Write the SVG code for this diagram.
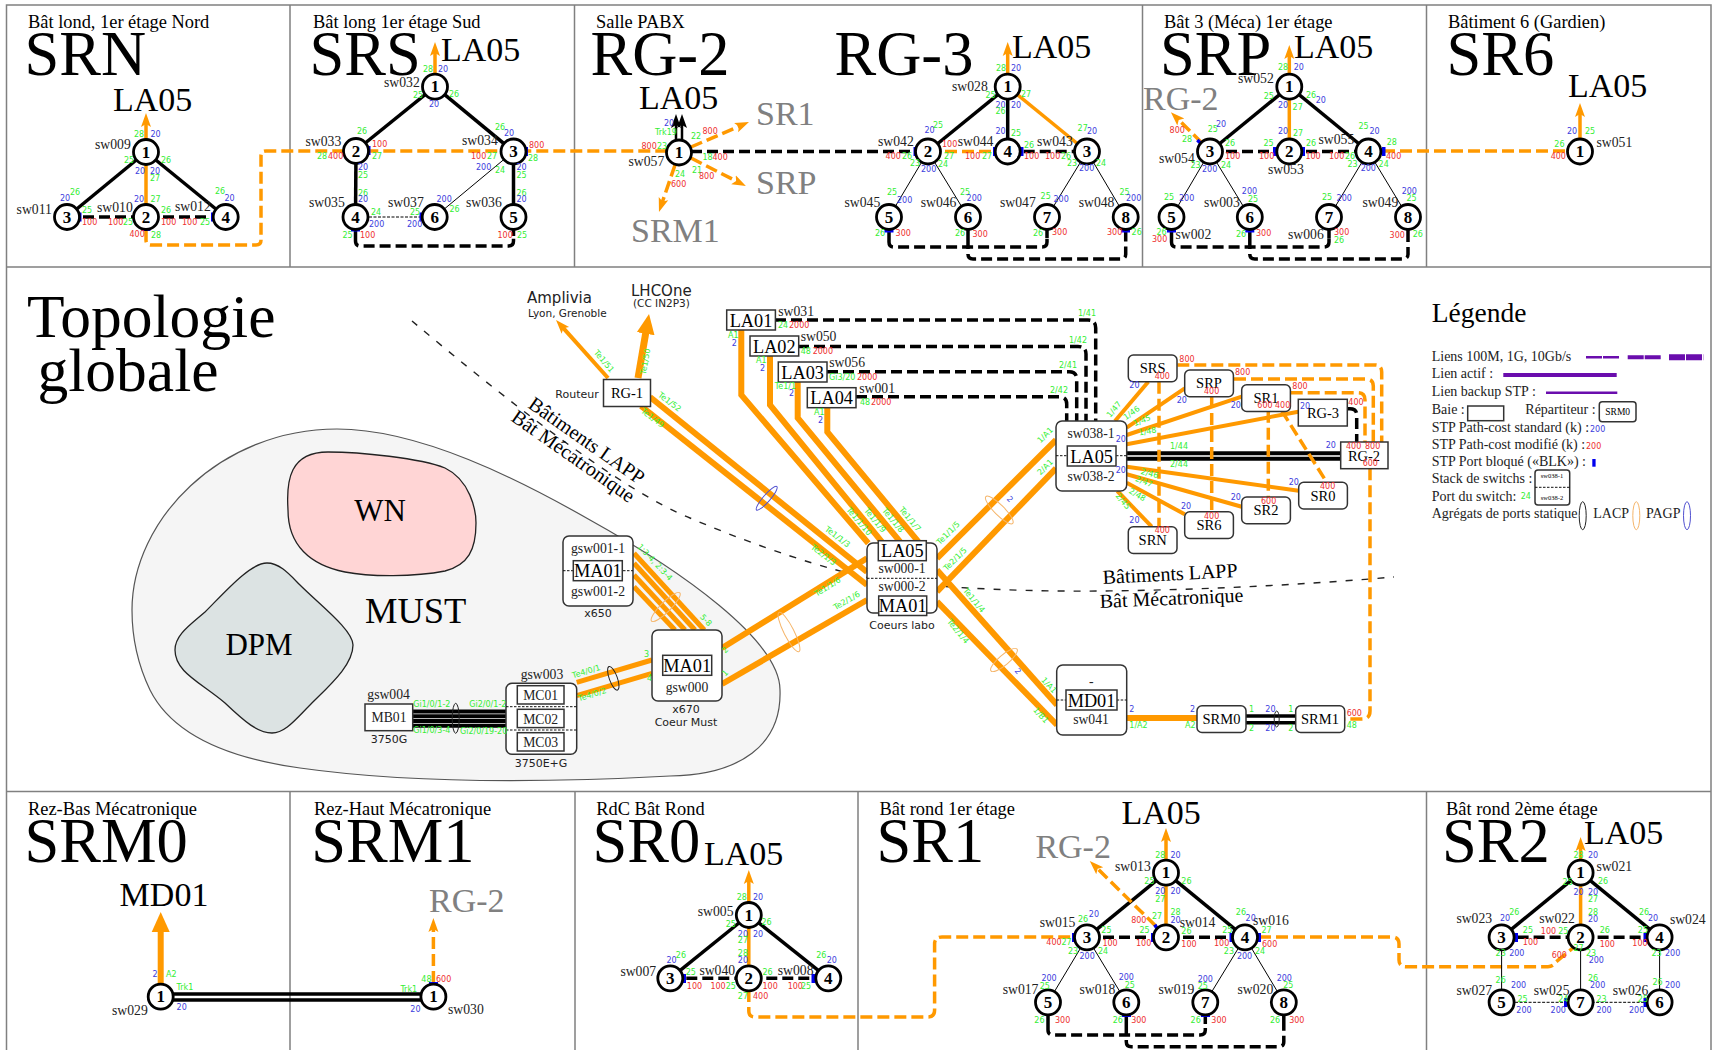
<svg xmlns="http://www.w3.org/2000/svg" width="1714" height="1050" viewBox="0 0 1714 1050">
<style>
text{font-family:"Liberation Serif","Times New Roman",serif;fill:#000}
.g,.b,.r,.s{font-family:"DejaVu Sans",sans-serif;font-size:8px}
.g{fill:#33ee33}.b{fill:#3c3cdd}.r{fill:#ee2f2f}
.rot{font-size:8px;text-anchor:middle}
.big{font-size:62.5px}.mid{font-size:34px}.gr{fill:#808080}
.ttl{font-size:18.4px}.sw{font-size:13.7px;fill:#222}
.d{font-family:"DejaVu Sans",sans-serif;font-size:11px;fill:#222;text-anchor:middle}
.c{text-anchor:middle}.m{font-size:14.5px;text-anchor:middle}.la{font-size:18.3px;text-anchor:middle}
.leg{font-size:14px;fill:#222}
.n{fill:#fff;stroke:#000;stroke-width:2.8}
.nt{font-size:17px;font-weight:bold;text-anchor:middle}
.fr{fill:none;stroke:#808080;stroke-width:1.5}
.box{fill:#fff;stroke:#333;stroke-width:1.5}
.rb{fill:#fff;stroke:#333;stroke-width:1.5}
path,line{fill:none}
.k{stroke:#000;stroke-width:3.5}
.kd{stroke:#000;stroke-width:3.5;stroke-dasharray:11,5}
.t{stroke:#000;stroke-width:1}
.td{stroke:#000;stroke-width:1;stroke-dasharray:3,1.5}
.o{stroke:#ff9900;stroke-width:3.5}
.od{stroke:#ff9900;stroke-width:3.5;stroke-dasharray:12,5}
.o6{stroke:#ff9900;stroke-width:6}
.dot{stroke:#111;stroke-width:1;stroke-dasharray:2.5,1.5}
.blk{fill:#0000ee}
.agk,.ago,.agb{fill:none;stroke-width:1}
.agk{stroke:#222}.ago{stroke:#f5b56a}.agb{stroke:#5050d0}
.pu{stroke:#6a0dad}
</style>
<defs>
<marker id="ao" markerUnits="userSpaceOnUse" markerWidth="16" markerHeight="12" refX="4" refY="6" orient="auto"><path d="M0,1 L14,6 L0,11 L3,6 z" style="fill:#ff9900"/></marker>
<marker id="ak" markerUnits="userSpaceOnUse" markerWidth="16" markerHeight="12" refX="4" refY="6" orient="auto"><path d="M0,1 L14,6 L0,11 L3,6 z" style="fill:#000"/></marker>
<marker id="ab" markerUnits="userSpaceOnUse" markerWidth="24" markerHeight="22" refX="1" refY="11" orient="auto"><path d="M0,2 L20,11 L0,20 z" style="fill:#ff9900"/></marker>
</defs>

<g id="frames">
<path class="fr" d="M6.5,1050 V5 H1711 V1050 M6.5,267 H1711 M6.5,791.5 H1711 M290,5 V267 M574.5,5 V267 M1142.5,5 V267 M1426.5,5 V267 M290,791.5 V1050 M575,791.5 V1050 M858,791.5 V1050 M1426.5,791.5 V1050"/>
</g>

<g id="zones">
<path d="M132,610 C132,520 220,429 337,429 C420,429 520,480 590,520 C680,570 780,640 780,690 C782,745 740,775 670,776 C560,782 420,785 300,768 C220,757 170,730 150,690 C138,665 132,640 132,610 Z" style="fill:#f5f5f5;stroke:#555;stroke-width:1.2"/>
<g id="zone-wn"><path d="M328,452 C360,452 420,458 445,468 C470,480 476,510 476,523 C476,550 468,565 445,571 C415,577 370,577 345,572 C310,565 288,545 288,510 C286,480 290,452 328,452 Z" style="fill:#ffd5d5;stroke:#222;stroke-width:1.3"/><text class="c" x="380" y="521" font-size="31">WN</text></g>
<g id="zone-dpm"><path d="M267,563 C280,563 290,575 300,585 C320,605 353,630 353,645 C353,665 330,685 310,705 C295,720 285,733 272,733 C258,733 245,722 225,703 C200,682 175,672 175,650 C175,635 190,625 205,612 C225,592 250,563 267,563 Z" style="fill:#dce3e3;stroke:#222;stroke-width:1.3"/><text class="c" x="259" y="655" font-size="31">DPM</text></g>
<text x="365" y="623" font-size="36.5">MUST</text>
<path d="M412,321 C500,395 620,490 690,518 C760,548 830,570 865,577 C900,585 1000,592 1100,591 C1200,590 1300,585 1394,577" style="stroke:#222;stroke-width:1.4;stroke-dasharray:7,9"/>
</g>

<g id="connectors">
<!-- top chain -->
<path class="od" d="M146,230 V240 Q146,245 151,245 H256 Q261,245 261,240 V156 Q261,151 266,151 H667"/>
<line class="kd" x1="691" y1="151.5" x2="915" y2="151.5"/>
<path class="od" d="M1383,151 H1567"/>
<!-- SRN -->
<line class="k" x1="146" y1="152" x2="67" y2="217"/><line class="k" x1="146" y1="152" x2="225.7" y2="217"/>
<line class="o" x1="146" y1="152" x2="146" y2="216"/>
<line class="o" x1="146" y1="140" x2="146" y2="123" marker-end="url(#ao)"/>
<line class="kd" x1="67" y1="217" x2="226" y2="217"/>
<!-- SRS -->
<line class="k" x1="435" y1="86.7" x2="356" y2="150.5"/><line class="k" x1="435" y1="86.7" x2="513.5" y2="151.5"/>
<line class="k" x1="356" y1="150.5" x2="355.5" y2="217"/><line class="k" x1="513.5" y1="151.5" x2="513.5" y2="217"/>
<line class="t" x1="513.5" y1="151.5" x2="434.7" y2="217"/><line class="td" x1="355.5" y1="217" x2="434.7" y2="217"/>
<path class="k" d="M355.5,229 V236 M513.5,229 V236"/>
<path class="kd" d="M355.5,236 V241 Q355.5,246 360.5,246 H508.5 Q513.5,246 513.5,241 V236"/>
<line class="o" x1="435" y1="74" x2="435" y2="52" marker-end="url(#ao)"/>
<!-- RG-2 -->
<line class="k" x1="676" y1="141" x2="676" y2="124" marker-end="url(#ak)" style="stroke-width:2.5"/><line class="k" x1="682" y1="141" x2="682" y2="124" marker-end="url(#ak)" style="stroke-width:2.5"/>
<line class="od" x1="691" y1="147" x2="739.8" y2="126" marker-end="url(#ao)"/>
<line class="od" x1="691" y1="158" x2="737" y2="181.5" marker-end="url(#ao)"/>
<line class="od" x1="675" y1="165" x2="662.2" y2="202.5" marker-end="url(#ao)"/>
<!-- RG-3 -->
<line class="k" x1="1007.7" y1="86.7" x2="928" y2="151.5"/><line class="k" x1="1007.7" y1="86.7" x2="1007.7" y2="151.5"/>
<line class="o" x1="1007.7" y1="86.7" x2="1087" y2="151.5"/>
<line class="o" x1="1007.7" y1="74" x2="1007.7" y2="52" marker-end="url(#ao)"/>
<line class="od" x1="928" y1="151.5" x2="1007.7" y2="151.5"/><line class="kd" x1="1007.7" y1="151.5" x2="1087" y2="151.5"/>
<path class="t" d="M928,151.5 L889,217 M928,151.5 L968,217 M1087,151.5 L1047,217 M1087,151.5 L1125.7,217"/>
<path class="k" d="M889,229 V238 M968,229 V238 M1047,229 V238 M1125.7,229 V238"/>
<path class="kd" d="M889,238 V242 Q889,247 894,247 H1042 Q1047,247 1047,242 V238"/>
<path class="kd" d="M968,238 V254 Q968,259 973,259 H1120.7 Q1125.7,259 1125.7,254 V238"/>
<!-- SRP -->
<line class="k" x1="1289.3" y1="86.7" x2="1210" y2="151.5"/><line class="k" x1="1289.3" y1="86.7" x2="1368.4" y2="151.5"/>
<line class="o" x1="1289.3" y1="86.7" x2="1289.3" y2="151.5"/>
<line class="o" x1="1289.3" y1="74" x2="1289.3" y2="55" marker-end="url(#ao)"/>
<line class="od" x1="1202" y1="143" x2="1178" y2="119.2" marker-end="url(#ao)"/>
<line class="kd" x1="1210" y1="151.5" x2="1368.4" y2="151.5"/>
<path class="t" d="M1210,151.5 L1171.5,217 M1210,151.5 L1249.8,217 M1368.4,151.5 L1329,217 M1368.4,151.5 L1408,217"/>
<path class="k" d="M1171.5,229 V238 M1249.8,229 V238 M1329,229 V238 M1408,229 V238"/>
<path class="kd" d="M1171.5,238 V242 Q1171.5,247 1176.5,247 H1324 Q1329,247 1329,242 V238"/>
<path class="kd" d="M1249.8,238 V254 Q1249.8,259 1254.8,259 H1403 Q1408,259 1408,254 V238"/>
<!-- SR6 -->
<line class="o" x1="1580" y1="139" x2="1580" y2="113" marker-end="url(#ao)"/>

<!-- global -->
<line x1="608" y1="378" x2="562.7" y2="327.4" marker-end="url(#ao)" style="stroke:#ff9900;stroke-width:4"/>
<line x1="638" y1="378" x2="645.8" y2="332.7" marker-end="url(#ab)" style="stroke:#ff9900;stroke-width:7"/>
<line class="o6" x1="650" y1="397" x2="867" y2="572"/><line class="o6" x1="641" y1="406" x2="867" y2="585"/>
<path class="o6" d="M741.3,330 V395 L868.3,543.3"/>
<path class="o6" d="M770,356 V405 L881.7,541.7"/>
<path class="o6" d="M797.7,382 V418 L900,541.7"/>
<path class="o6" d="M827.3,408 V432 L918.3,541.7"/>
<path class="kd" d="M775,320 H1088 Q1095.7,320 1095.7,328 V421"/>
<path class="kd" d="M798,346.5 H1078 Q1086,346.5 1086,354 V421"/>
<path class="kd" d="M827,371.7 H1069 Q1076.7,371.7 1076.7,379 V421"/>
<path class="kd" d="M856,396.7 H1059 Q1066.7,396.7 1066.7,404 V421"/>
<line class="o6" x1="722" y1="648" x2="867" y2="558.3"/><line class="o6" x1="722" y1="684" x2="867" y2="600"/>
<line class="o6" x1="937" y1="558.3" x2="1056" y2="440"/><line class="o6" x1="937" y1="591.7" x2="1056" y2="468.3"/>
<line class="o6" x1="937" y1="570" x2="1057" y2="705"/><line class="o6" x1="937" y1="601.7" x2="1057" y2="725"/>
<line class="o6" x1="1127" y1="718" x2="1197" y2="718"/>
<g style="stroke:#000;stroke-width:4"><line x1="1127" y1="453.3" x2="1341" y2="453.3"/><line x1="1127" y1="458.7" x2="1341" y2="458.7"/></g>
<g style="stroke:#000;stroke-width:3.5"><line x1="1246" y1="716" x2="1296" y2="716"/><line x1="1246" y1="722.7" x2="1296" y2="722.7"/></g>
<g style="stroke:#ff9900;stroke-width:5"><line x1="634" y1="553.3" x2="704.3" y2="630"/><line x1="634" y1="563.3" x2="695" y2="630"/><line x1="634" y1="575" x2="685" y2="630"/><line x1="634" y1="586.7" x2="675" y2="630"/></g>
<g style="stroke:#ff9900;stroke-width:5"><line x1="576.7" y1="682.3" x2="652" y2="660"/><line x1="576.7" y1="695.7" x2="652" y2="673.3"/></g>
<g style="stroke:#000;stroke-width:4"><line x1="412" y1="711.5" x2="506" y2="711.5"/><line x1="412" y1="716.3" x2="506" y2="716.3"/><line x1="412" y1="721" x2="506" y2="721"/><line x1="412" y1="725.7" x2="506" y2="725.7"/></g>
<!-- sw038 star -->
<g class="o" style="stroke-width:4"><line x1="1115" y1="421" x2="1148.3" y2="381.7"/><line x1="1126.7" y1="427.7" x2="1184.7" y2="388.3"/><line x1="1126.7" y1="435" x2="1241.7" y2="396.7"/><line x1="1126.7" y1="444.3" x2="1298.3" y2="411.7"/><line x1="1126.7" y1="466.7" x2="1298.7" y2="490.7"/><line x1="1126.7" y1="474.3" x2="1241.7" y2="506.7"/><line x1="1126.7" y1="482.7" x2="1184.7" y2="514.3"/><line x1="1117.3" y1="491" x2="1151.7" y2="526.7"/></g>
<line class="od" x1="1159" y1="381.7" x2="1159" y2="526.7"/>
<line class="od" x1="1211.7" y1="396" x2="1211.7" y2="511.7"/>
<line class="od" x1="1268.3" y1="410.7" x2="1268.3" y2="497"/>
<line class="od" x1="1281.7" y1="410.7" x2="1326.7" y2="482.3"/>
<path class="od" d="M1177.3,365 H1375 Q1381.7,365 1381.7,372 V442"/>
<path class="od" d="M1234,379 H1366 Q1373.3,379 1373.3,386 V442"/>
<path class="od" d="M1290.7,392.7 H1358 Q1365,392.7 1365,400 V442"/>
<path class="od" d="M1370,468.3 V711 Q1370,719 1362,719 H1345"/>
<path class="kd" d="M1347.3,408.7 H1350 Q1356.7,408.7 1356.7,415 V442"/>
<!-- SRM -->
<line x1="160.7" y1="984" x2="160.7" y2="931" marker-end="url(#ab)" style="stroke:#ff9900;stroke-width:6"/>
<g style="stroke:#000;stroke-width:3.5"><line x1="160.7" y1="994" x2="433.4" y2="994"/><line x1="160.7" y1="1000" x2="433.4" y2="1000"/></g>
<line class="od" x1="433.4" y1="983" x2="433.4" y2="928" marker-end="url(#ao)"/>
<!-- SR0 -->
<line class="k" x1="748.8" y1="915" x2="670.3" y2="978.3"/><line class="k" x1="748.8" y1="915" x2="828.3" y2="978.3"/>
<line class="o" x1="748.8" y1="915" x2="748.8" y2="978.3"/>
<line class="o" x1="748.8" y1="902" x2="748.8" y2="880" marker-end="url(#ao)"/>
<line class="kd" x1="670.3" y1="978.3" x2="828.3" y2="978.3"/>
<path class="od" d="M748.8,990 V1011 Q748.8,1017 755,1017 H928 Q934.6,1017 934.6,1010 V944 Q934.6,937 942,937 H1075"/>
<!-- SR1 -->
<line class="k" x1="1166" y1="872.7" x2="1087" y2="937.3"/><line class="k" x1="1166" y1="872.7" x2="1245" y2="937.3"/>
<line class="o" x1="1166" y1="872.7" x2="1166" y2="937.3"/>
<line class="o" x1="1166" y1="860" x2="1166" y2="838" marker-end="url(#ao)"/>
<line class="od" x1="1155.7" y1="926" x2="1096.9" y2="868" marker-end="url(#ao)"/>
<line class="kd" x1="1087" y1="937.3" x2="1245" y2="937.3"/>
<path class="t" d="M1087,937.3 L1048,1002.3 M1087,937.3 L1126.3,1002.3 M1245,937.3 L1205.3,1002.3 M1245,937.3 L1283.8,1002.3"/>
<path class="k" d="M1048,1014 V1024 M1126.3,1014 V1024 M1205.3,1014 V1024 M1283.8,1014 V1024"/>
<path class="kd" d="M1048,1024 V1030 Q1048,1035 1053,1035 H1200 Q1205.3,1035 1205.3,1030 V1024"/>
<path class="kd" d="M1126.3,1024 V1041.7 Q1126.3,1046.7 1131.3,1046.7 H1279 Q1283.8,1046.7 1283.8,1041.7 V1024"/>
<path class="od" d="M1259,937 H1392 Q1399,937 1399,944 V960 Q1399,966.7 1406,966.7 H1548 Q1553,966.7 1556,962 L1574,947"/>
<!-- SR2 -->
<line class="k" x1="1580.6" y1="872.7" x2="1501.6" y2="937.3"/><line class="k" x1="1580.6" y1="872.7" x2="1659.6" y2="937.3"/>
<line class="o" x1="1580.6" y1="872.7" x2="1580.6" y2="937.3"/>
<line class="o" x1="1580.6" y1="860" x2="1580.6" y2="847" marker-end="url(#ao)"/>
<line class="kd" x1="1501.6" y1="937.3" x2="1659.6" y2="937.3"/>
<path class="t" d="M1501.6,937.3 V1002.3 M1580.6,937.3 V1002.3 M1659.6,937.3 V1002.3"/>
<line class="td" x1="1501.6" y1="1002.3" x2="1659.6" y2="1002.3"/>
</g>

<g id="aggregates">
<ellipse class="agb" cx="766.7" cy="498.3" rx="15.5" ry="3.5" transform="rotate(-49 766.7 498.3)"/>
<ellipse class="ago" cx="665.7" cy="607" rx="20" ry="5" transform="rotate(-45 665.7 607)"/>
<ellipse class="agk" cx="613.3" cy="678.3" rx="4" ry="12.5" transform="rotate(-20 613.3 678.3)"/>
<ellipse class="agk" cx="455.7" cy="718.3" rx="3.5" ry="15"/>
<ellipse class="ago" cx="789" cy="632" rx="5" ry="22" transform="rotate(-27 789 632)"/>
<ellipse class="ago" cx="999.3" cy="510" rx="19" ry="5" transform="rotate(45 999.3 510)"/>
<ellipse class="ago" cx="1004" cy="660" rx="17" ry="5" transform="rotate(-40 1004 660)"/>
<ellipse class="agk" cx="1276.7" cy="719" rx="2.5" ry="8"/>
</g>

<g id="blocked" class="blk">
<rect x="78" y="212.5" width="3.5" height="9"/><rect x="141.5" y="227.5" width="9" height="3.5"/><rect x="211" y="212.5" width="3.5" height="9"/>
<rect x="367" y="146" width="3.5" height="9"/><rect x="524.5" y="147" width="3.5" height="9"/><rect x="351" y="228" width="9" height="3.5"/><rect x="419.5" y="212.5" width="3.5" height="9"/>
<rect x="913.5" y="147" width="3.5" height="9"/><rect x="993" y="147" width="3.5" height="9"/><rect x="1020" y="147" width="3.5" height="9"/><rect x="884.5" y="229" width="9" height="3.5"/><rect x="1121" y="229" width="9" height="3.5"/>
<rect x="1196" y="141" width="9" height="3.5" transform="rotate(45 1200 143)"/><rect x="1273" y="147" width="3.5" height="9"/><rect x="1301.5" y="147" width="3.5" height="9"/><rect x="1382" y="147" width="3.5" height="9"/><rect x="1167" y="229" width="9" height="3.5"/><rect x="1245.3" y="229" width="9" height="3.5"/>
<rect x="429" y="982" width="9" height="3.5"/>
<rect x="682.5" y="974" width="3.5" height="9"/><rect x="811.5" y="974" width="3.5" height="9"/>
<rect x="1072" y="933" width="3.5" height="9"/><rect x="1151" y="933" width="3.5" height="9"/><rect x="1155" y="924" width="3.5" height="9" transform="rotate(-30 1157 928)"/><rect x="1229.5" y="933" width="3.5" height="9"/><rect x="1257.5" y="933" width="3.5" height="9"/><rect x="1122" y="1013.5" width="9" height="3.5"/><rect x="1201" y="1013.5" width="9" height="3.5"/>
<rect x="1514.5" y="933" width="3.5" height="9"/><rect x="1643.5" y="933" width="3.5" height="9"/><rect x="1564" y="998" width="3.5" height="9"/><rect x="1643.5" y="998" width="3.5" height="9"/>
</g>

<g id="titles">
<text class="ttl" x="28" y="28">Bât lond, 1er étage Nord</text><text class="big" x="24.5" y="75">SRN</text><text class="mid" x="113" y="111">LA05</text>
<text class="ttl" x="313" y="28">Bât long 1er étage Sud</text><text class="big" x="309.5" y="75">SRS</text><text class="mid" x="441" y="61">LA05</text>
<text class="ttl" x="596" y="28">Salle PABX</text><text class="big" x="590.5" y="75">RG-2</text><text class="mid" x="639" y="109">LA05</text>
<text class="mid gr" x="756" y="125">SR1</text><text class="mid gr" x="756" y="194">SRP</text><text class="mid gr" x="631" y="242">SRM1</text>
<text class="big" x="834.5" y="75">RG-3</text><text class="mid" x="1012" y="58">LA05</text>
<text class="ttl" x="1164" y="28">Bât 3 (Méca) 1er étage</text><text class="big" x="1160" y="75">SRP</text><text class="mid" x="1294" y="58">LA05</text><text class="mid gr" x="1143" y="110">RG-2</text>
<text class="ttl" x="1448" y="28">Bâtiment 6 (Gardien)</text><text class="big" x="1446.5" y="75">SR6</text><text class="mid" x="1568" y="97">LA05</text>
<text x="27" y="337" font-size="61.5">Topologie</text><text x="37.5" y="391" font-size="61.5">globale</text>
<text class="ttl" x="28" y="815">Rez-Bas Mécatronique</text><text class="big" x="24.5" y="861.7">SRM0</text><text class="mid" x="119.6" y="906">MD01</text>
<text class="ttl" x="314" y="815">Rez-Haut Mécatronique</text><text class="big" x="311.3" y="861.7">SRM1</text><text class="mid gr" x="429" y="912">RG-2</text>
<text class="ttl" x="596.3" y="815">RdC Bât Rond</text><text class="big" x="592.5" y="861.7">SR0</text><text class="mid" x="704" y="865">LA05</text>
<text class="ttl" x="879.6" y="815">Bât rond 1er étage</text><text class="big" x="876.5" y="861.7">SR1</text><text class="mid" x="1121.5" y="824">LA05</text><text class="mid gr" x="1035.4" y="858">RG-2</text>
<text class="ttl" x="1446" y="815">Bât rond 2ème étage</text><text class="big" x="1442" y="861.7">SR2</text><text class="mid" x="1584" y="844">LA05</text>
<text x="527" y="407" font-size="20.2" transform="rotate(35 527 407)">Bâtiments LAPP</text>
<text x="510" y="420" font-size="20.2" transform="rotate(35 510 420)">Bât Mécatronique</text>
<text x="1103" y="584" font-size="20" transform="rotate(-3 1103 584)">Bâtiments LAPP</text>
<text x="1100" y="608" font-size="20" transform="rotate(-2.5 1100 608)">Bât Mécatronique</text>
<text x="527" y="302.7" style="font-family:'DejaVu Sans',sans-serif;font-size:15px;fill:#222">Amplivia</text>
<text x="528" y="317" style="font-family:'DejaVu Sans',sans-serif;font-size:10.5px;fill:#222">Lyon, Grenoble</text>
<text x="631" y="296" style="font-family:'DejaVu Sans',sans-serif;font-size:15px;fill:#222">LHCOne</text>
<text x="633" y="307" style="font-family:'DejaVu Sans',sans-serif;font-size:10.5px;fill:#222">(CC IN2P3)</text>
</g>

<g id="nodes">
<!-- SRN -->
<g id="sw009"><circle class="n" cx="146" cy="152" r="12.5"/><text class="nt" x="146" y="157.5">1</text><text class="sw" x="95" y="149">sw009</text></g>
<g id="sw010"><circle class="n" cx="146" cy="217" r="12.5"/><text class="nt" x="146" y="222.5">2</text><text class="sw" x="97" y="212">sw010</text></g>
<g id="sw011"><circle class="n" cx="67" cy="217" r="12.5"/><text class="nt" x="67" y="222.5">3</text><text class="sw" x="16.6" y="213.5">sw011</text></g>
<g id="sw012"><circle class="n" cx="225.7" cy="217" r="12.5"/><text class="nt" x="225.7" y="222.5">4</text><text class="sw" x="175" y="211">sw012</text></g>
<!-- SRS -->
<g id="sw032"><circle class="n" cx="435" cy="86.7" r="12.5"/><text class="nt" x="435" y="92">1</text><text class="sw" x="384" y="87">sw032</text></g>
<g id="sw033"><circle class="n" cx="356" cy="151" r="12.5"/><text class="nt" x="356" y="156.5">2</text><text class="sw" x="305.5" y="146">sw033</text></g>
<g id="sw034"><circle class="n" cx="513.5" cy="151.5" r="12.5"/><text class="nt" x="513.5" y="157">3</text><text class="sw" x="462" y="145">sw034</text></g>
<g id="sw035"><circle class="n" cx="355.5" cy="217" r="12.5"/><text class="nt" x="355.5" y="222.5">4</text><text class="sw" x="309" y="207">sw035</text></g>
<g id="sw036"><circle class="n" cx="513.5" cy="217" r="12.5"/><text class="nt" x="513.5" y="222.5">5</text><text class="sw" x="466" y="207">sw036</text></g>
<g id="sw037"><circle class="n" cx="434.7" cy="217" r="12.5"/><text class="nt" x="434.7" y="222.5">6</text><text class="sw" x="388" y="207">sw037</text></g>
<!-- RG-2 -->
<g id="sw057"><circle class="n" cx="679" cy="152.5" r="12.5"/><text class="nt" x="679" y="158">1</text><text class="sw" x="628.5" y="166">sw057</text></g>
<!-- RG-3 -->
<g id="sw028"><circle class="n" cx="1007.7" cy="86.7" r="12.5"/><text class="nt" x="1007.7" y="92">1</text><text class="sw" x="952" y="91">sw028</text></g>
<g id="sw042"><circle class="n" cx="928" cy="151.5" r="12.5"/><text class="nt" x="928" y="157">2</text><text class="sw" x="878" y="146">sw042</text></g>
<g id="sw043"><circle class="n" cx="1087" cy="151.5" r="12.5"/><text class="nt" x="1087" y="157">3</text><text class="sw" x="1037" y="146">sw043</text></g>
<g id="sw044"><circle class="n" cx="1007.7" cy="151.5" r="12.5"/><text class="nt" x="1007.7" y="157">4</text><text class="sw" x="957.7" y="146">sw044</text></g>
<g id="sw045"><circle class="n" cx="889" cy="217" r="12.5"/><text class="nt" x="889" y="222.5">5</text><text class="sw" x="844.5" y="207">sw045</text></g>
<g id="sw046"><circle class="n" cx="968" cy="217" r="12.5"/><text class="nt" x="968" y="222.5">6</text><text class="sw" x="920.7" y="207">sw046</text></g>
<g id="sw047"><circle class="n" cx="1047" cy="217" r="12.5"/><text class="nt" x="1047" y="222.5">7</text><text class="sw" x="1000" y="207">sw047</text></g>
<g id="sw048"><circle class="n" cx="1125.7" cy="217" r="12.5"/><text class="nt" x="1125.7" y="222.5">8</text><text class="sw" x="1078.7" y="207">sw048</text></g>
<!-- SRP -->
<g id="sw052"><circle class="n" cx="1289.3" cy="86.7" r="12.5"/><text class="nt" x="1289.3" y="92">1</text><text class="sw" x="1238" y="83">sw052</text></g>
<g id="sw053"><circle class="n" cx="1289.3" cy="151.5" r="12.5"/><text class="nt" x="1289.3" y="157">2</text><text class="sw" x="1268" y="174">sw053</text></g>
<g id="sw054"><circle class="n" cx="1210" cy="151.5" r="12.5"/><text class="nt" x="1210" y="157">3</text><text class="sw" x="1159" y="163">sw054</text></g>
<g id="sw055"><circle class="n" cx="1368.4" cy="151.5" r="12.5"/><text class="nt" x="1368.4" y="157">4</text><text class="sw" x="1318.5" y="144">sw055</text></g>
<g id="sw002"><circle class="n" cx="1171.5" cy="217" r="12.5"/><text class="nt" x="1171.5" y="222.5">5</text><text class="sw" x="1175.5" y="239">sw002</text></g>
<g id="sw003"><circle class="n" cx="1249.8" cy="217" r="12.5"/><text class="nt" x="1249.8" y="222.5">6</text><text class="sw" x="1204" y="207">sw003</text></g>
<g id="sw006"><circle class="n" cx="1329" cy="217" r="12.5"/><text class="nt" x="1329" y="222.5">7</text><text class="sw" x="1288" y="239">sw006</text></g>
<g id="sw049"><circle class="n" cx="1408" cy="217" r="12.5"/><text class="nt" x="1408" y="222.5">8</text><text class="sw" x="1362.5" y="207">sw049</text></g>
<!-- SR6 -->
<g id="sw051"><circle class="n" cx="1580" cy="151.5" r="12.5"/><text class="nt" x="1580" y="157">1</text><text class="sw" x="1596.5" y="147">sw051</text></g>

<!-- global boxes -->
<g id="rg1"><rect class="box" x="603.5" y="379.5" width="47" height="27"/><text class="m" x="627" y="398">RG-1</text><text class="d" x="577" y="397.7">Routeur</text></g>
<g id="la01"><rect class="box" x="726.7" y="310" width="48.7" height="20"/><text class="la" x="751" y="326.5">LA01</text><text class="sw" x="778.3" y="315.7">sw031</text></g>
<g id="la02"><rect class="box" x="750" y="336" width="48.7" height="20"/><text class="la" x="774.3" y="352.5">LA02</text><text class="sw" x="800.7" y="341">sw050</text></g>
<g id="la03"><rect class="box" x="778.3" y="362" width="48.7" height="20"/><text class="la" x="802.7" y="378.5">LA03</text><text class="sw" x="829.3" y="367">sw056</text></g>
<g id="la04"><rect class="box" x="807.3" y="387.7" width="48.7" height="20"/><text class="la" x="831.7" y="404.2">LA04</text><text class="sw" x="859.3" y="392.7">sw001</text></g>
<g id="core"><rect class="rb" x="867" y="543" width="70" height="70" rx="6"/><line class="dot" x1="867" y1="578.3" x2="937" y2="578.3"/>
<text class="sw c" x="902" y="572.5">sw000-1</text><text class="sw c" x="902" y="591">sw000-2</text>
<rect class="box" x="878.3" y="540.7" width="48" height="20"/><text class="la" x="902.3" y="557.2">LA05</text>
<rect class="box" x="878.7" y="596" width="48" height="19.5"/><text class="la" x="902.7" y="612.2">MA01</text>
<text class="d" x="902" y="629">Coeurs labo</text></g>
<g id="gsw001"><rect class="rb" x="563" y="536" width="70" height="70" rx="6"/><line class="dot" x1="563" y1="570.7" x2="633" y2="570.7"/>
<text class="sw c" x="598" y="553.3">gsw001-1</text><text class="sw c" x="598" y="596">gsw001-2</text>
<rect class="box" x="573.3" y="560.7" width="49" height="20"/><text class="la" x="597.8" y="577.2">MA01</text><text class="d" x="598" y="616.7">x650</text></g>
<g id="gsw000"><rect class="rb" x="652" y="630" width="70" height="71" rx="6"/>
<rect class="box" x="662.7" y="655.3" width="49" height="20"/><text class="la" x="687.2" y="671.8">MA01</text><text class="sw c" x="687" y="691.7">gsw000</text>
<text class="d" x="686" y="713.3">x670</text><text class="d" x="686" y="726">Coeur Must</text></g>
<g id="gsw003"><rect class="rb" x="506" y="683.3" width="70.7" height="71" rx="6"/><line class="dot" x1="506" y1="706.7" x2="576.7" y2="706.7"/><line class="dot" x1="506" y1="730" x2="576.7" y2="730"/>
<rect class="box" x="517.3" y="685.7" width="46.7" height="18.3"/><text class="sw c" x="540.7" y="700">MC01</text>
<rect class="box" x="517.3" y="709.3" width="46.7" height="18.3"/><text class="sw c" x="540.7" y="723.5">MC02</text>
<rect class="box" x="517.3" y="732.7" width="46.7" height="18.3"/><text class="sw c" x="540.7" y="747">MC03</text>
<text class="sw" x="520.7" y="679.3">gsw003</text><text class="d" x="541" y="766.7">3750E+G</text></g>
<g id="gsw004"><rect class="box" x="365" y="704" width="47.7" height="26.7"/><text class="sw c" x="389" y="722">MB01</text><text class="sw" x="367.3" y="699">gsw004</text><text class="d" x="389" y="742.7">3750G</text></g>
<g id="sw041"><rect class="rb" x="1056.7" y="665" width="70" height="70" rx="6"/><line class="dot" x1="1056.7" y1="700" x2="1126.7" y2="700"/>
<text class="sw c" x="1091.3" y="686">-</text><rect class="box" x="1066" y="690" width="51" height="20"/><text class="la" x="1091.5" y="706.5">MD01</text><text class="sw c" x="1091" y="724">sw041</text></g>
<g id="box-srm0"><rect class="rb" x="1197" y="705.7" width="49" height="26.7" rx="5"/><text class="m" x="1221.5" y="724">SRM0</text></g>
<g id="box-srm1"><rect class="rb" x="1295.7" y="705.7" width="49" height="26.7" rx="5"/><text class="m" x="1320" y="724">SRM1</text></g>
<g id="sw038"><rect class="rb" x="1056" y="421" width="70.7" height="70" rx="6"/><line class="dot" x1="1056" y1="455.7" x2="1126.7" y2="455.7"/>
<text class="sw c" x="1091" y="437.7">sw038-1</text><text class="sw c" x="1091" y="481">sw038-2</text>
<rect class="box" x="1067.3" y="446" width="48.7" height="20"/><text class="la" x="1091.7" y="462.5">LA05</text></g>
<g id="box-rg2"><rect class="box" x="1340.7" y="442" width="47.3" height="26.7"/><text class="m" x="1364" y="460.5">RG-2</text></g>
<g id="box-rg3"><rect class="box" x="1298.3" y="399.3" width="49" height="26.7"/><text class="m" x="1323" y="417.5">RG-3</text></g>
<g id="box-srs"><rect class="rb" x="1128.3" y="355" width="48.7" height="26.7" rx="5"/><text class="m" x="1152.7" y="373">SRS</text></g>
<g id="box-srp"><rect class="rb" x="1184.7" y="370" width="48.7" height="26.7" rx="5"/><text class="m" x="1209" y="388">SRP</text></g>
<g id="box-sr1"><rect class="rb" x="1241.7" y="384.7" width="48.7" height="26.7" rx="5"/><text class="m" x="1266" y="403">SR1</text></g>
<g id="box-sr0"><rect class="rb" x="1298.7" y="482.3" width="48.7" height="26.7" rx="5"/><text class="m" x="1323" y="500.5">SR0</text></g>
<g id="box-sr2"><rect class="rb" x="1241.7" y="497" width="48.7" height="26.7" rx="5"/><text class="m" x="1266" y="515">SR2</text></g>
<g id="box-sr6"><rect class="rb" x="1184.7" y="511.7" width="48.7" height="26.7" rx="5"/><text class="m" x="1209" y="530">SR6</text></g>
<g id="box-srn"><rect class="rb" x="1128.3" y="526.7" width="48.7" height="26.7" rx="5"/><text class="m" x="1152.7" y="545">SRN</text></g>

<!-- SRM -->
<g id="sw029"><circle class="n" cx="160.7" cy="996.7" r="12.5"/><text class="nt" x="160.7" y="1002">1</text><text class="sw" x="112" y="1015">sw029</text></g>
<g id="sw030"><circle class="n" cx="433.4" cy="996.7" r="12.5"/><text class="nt" x="433.4" y="1002">1</text><text class="sw" x="448" y="1014">sw030</text></g>
<!-- SR0 -->
<g id="sw005"><circle class="n" cx="748.8" cy="915" r="12.5"/><text class="nt" x="748.8" y="920.5">1</text><text class="sw" x="697.8" y="915.5">sw005</text></g>
<g id="sw040"><circle class="n" cx="748.8" cy="978.3" r="12.5"/><text class="nt" x="748.8" y="983.8">2</text><text class="sw" x="699.4" y="975">sw040</text></g>
<g id="sw007"><circle class="n" cx="670.3" cy="978.3" r="12.5"/><text class="nt" x="670.3" y="983.8">3</text><text class="sw" x="620.4" y="975.7">sw007</text></g>
<g id="sw008"><circle class="n" cx="828.3" cy="978.3" r="12.5"/><text class="nt" x="828.3" y="983.8">4</text><text class="sw" x="777.8" y="975">sw008</text></g>
<!-- SR1 -->
<g id="sw013"><circle class="n" cx="1166" cy="872.7" r="12.5"/><text class="nt" x="1166" y="878">1</text><text class="sw" x="1115" y="870.5">sw013</text></g>
<g id="sw014"><circle class="n" cx="1166" cy="937.3" r="12.5"/><text class="nt" x="1166" y="942.8">2</text><text class="sw" x="1179.7" y="927">sw014</text></g>
<g id="sw015"><circle class="n" cx="1087" cy="937.3" r="12.5"/><text class="nt" x="1087" y="942.8">3</text><text class="sw" x="1039.7" y="927">sw015</text></g>
<g id="sw016"><circle class="n" cx="1245" cy="937.3" r="12.5"/><text class="nt" x="1245" y="942.8">4</text><text class="sw" x="1253" y="925">sw016</text></g>
<g id="sw017"><circle class="n" cx="1048" cy="1002.3" r="12.5"/><text class="nt" x="1048" y="1007.8">5</text><text class="sw" x="1002.7" y="994">sw017</text></g>
<g id="sw018"><circle class="n" cx="1126.3" cy="1002.3" r="12.5"/><text class="nt" x="1126.3" y="1007.8">6</text><text class="sw" x="1079.5" y="994">sw018</text></g>
<g id="sw019"><circle class="n" cx="1205.3" cy="1002.3" r="12.5"/><text class="nt" x="1205.3" y="1007.8">7</text><text class="sw" x="1158.5" y="994">sw019</text></g>
<g id="sw020"><circle class="n" cx="1283.8" cy="1002.3" r="12.5"/><text class="nt" x="1283.8" y="1007.8">8</text><text class="sw" x="1237.5" y="994">sw020</text></g>
<!-- SR2 -->
<g id="sw021"><circle class="n" cx="1580.6" cy="872.7" r="12.5"/><text class="nt" x="1580.6" y="878">1</text><text class="sw" x="1596.4" y="870.5">sw021</text></g>
<g id="sw022"><circle class="n" cx="1580.6" cy="937.3" r="12.5"/><text class="nt" x="1580.6" y="942.8">2</text><text class="sw" x="1539.2" y="923">sw022</text></g>
<g id="sw023"><circle class="n" cx="1501.6" cy="937.3" r="12.5"/><text class="nt" x="1501.6" y="942.8">3</text><text class="sw" x="1456.4" y="923">sw023</text></g>
<g id="sw024"><circle class="n" cx="1659.6" cy="937.3" r="12.5"/><text class="nt" x="1659.6" y="942.8">4</text><text class="sw" x="1669.9" y="923.7">sw024</text></g>
<g id="sw027"><circle class="n" cx="1501.6" cy="1002.3" r="12.5"/><text class="nt" x="1501.6" y="1007.8">5</text><text class="sw" x="1456.4" y="994.7">sw027</text></g>
<g id="sw025"><circle class="n" cx="1580.6" cy="1002.3" r="12.5"/><text class="nt" x="1580.6" y="1007.8">7</text><text class="sw" x="1533.8" y="994.7">sw025</text></g>
<g id="sw026"><circle class="n" cx="1659.6" cy="1002.3" r="12.5"/><text class="nt" x="1659.6" y="1007.8">6</text><text class="sw" x="1612.7" y="994.7">sw026</text></g>
</g>

<g id="ports-top">
<text class="g" x="134" y="137">28</text><text class="b" x="150.5" y="137">20</text><text class="g" x="124" y="163">25</text><text class="g" x="161" y="163">26</text><text class="b" x="135" y="174">20</text><text class="b" x="150" y="174">20</text><text class="g" x="150" y="181">27</text><text class="g" x="70" y="195">26</text><text class="b" x="60" y="201">20</text><text class="b" x="134" y="201.5">20</text><text class="g" x="150.5" y="201.5">27</text><text class="g" x="215" y="194">26</text><text class="b" x="224.5" y="201">20</text><text class="g" x="82" y="213">25</text><text class="g" x="161" y="213">26</text><text class="g" x="200" y="224.5">25</text><text class="r" x="82" y="224.5">100</text><text class="r" x="108" y="224.5">100</text><text class="g" x="123" y="224.5">25</text><text class="r" x="161" y="224.5">100</text><text class="r" x="182" y="224.5">100</text><text class="r" x="129.5" y="237">400</text><text class="g" x="151" y="238">28</text>
<text class="g" x="423" y="72">28</text><text class="b" x="438" y="72">20</text><text class="g" x="413" y="98">25</text><text class="g" x="449" y="97">26</text><text class="b" x="429" y="107">20</text><text class="g" x="357" y="134">26</text><text class="g" x="495" y="130">26</text><text class="b" x="504" y="136">20</text><text class="r" x="372" y="147">100</text><text class="r" x="529" y="148">800</text><text class="g" x="317" y="159">28</text><text class="r" x="328" y="159">400</text><text class="g" x="372" y="159">27</text><text class="r" x="471" y="159">100</text><text class="g" x="487" y="159">27</text><text class="g" x="528" y="160.5">28</text><text class="b" x="358" y="170">20</text><text class="g" x="358" y="178">25</text><text class="b" x="476" y="170">200</text><text class="g" x="495" y="173">24</text><text class="b" x="516.5" y="170">20</text><text class="g" x="516.5" y="177.5">25</text><text class="g" x="358" y="196">26</text><text class="b" x="358" y="202">20</text><text class="g" x="516.5" y="196">26</text><text class="b" x="516.5" y="202">20</text><text class="b" x="436.5" y="202">200</text><text class="g" x="449.5" y="212">26</text><text class="g" x="410" y="215">25</text><text class="g" x="371" y="215">24</text><text class="b" x="369" y="227">200</text><text class="b" x="407" y="227">200</text><text class="g" x="342.5" y="238">25</text><text class="r" x="360" y="238">100</text><text class="r" x="497.5" y="238">100</text><text class="g" x="517" y="238">25</text>
<text class="b" x="664" y="126">20</text><text class="g" x="655" y="135">Trk19</text><text class="g" x="691" y="139">22</text><text class="r" x="702.5" y="134">800</text><text class="r" x="641.5" y="149">800</text><text class="g" x="657" y="149">23</text><text class="g" x="702.5" y="160">18</text><text class="r" x="712.5" y="160">400</text><text class="g" x="692" y="173">21</text><text class="r" x="699" y="179">800</text><text class="g" x="675" y="177">24</text><text class="r" x="671" y="187">600</text>
<text class="g" x="996" y="71">28</text><text class="b" x="1011" y="71">20</text><text class="g" x="985.5" y="98">25</text><text class="g" x="1021" y="97">27</text><text class="b" x="995.5" y="108">20</text><text class="b" x="1011" y="108">20</text><text class="g" x="995.5" y="114">26</text><text class="g" x="933" y="128">25</text><text class="b" x="924.5" y="133">20</text><text class="b" x="995.5" y="134">20</text><text class="g" x="1011" y="135.7">25</text><text class="g" x="1077.6" y="131">27</text><text class="b" x="1087" y="134">20</text><text class="r" x="942" y="147">100</text><text class="g" x="1024" y="148">26</text><text class="r" x="885.6" y="159">400</text><text class="g" x="902" y="159">26</text><text class="g" x="944" y="159">27</text><text class="r" x="965" y="159">100</text><text class="g" x="982" y="159">27</text><text class="r" x="1024" y="159">100</text><text class="r" x="1045" y="159">100</text><text class="g" x="1061" y="159">26</text><text class="g" x="910" y="166">23</text><text class="g" x="938" y="166.5">24</text><text class="g" x="1067" y="166">23</text><text class="g" x="1096" y="166">24</text><text class="b" x="921" y="172">200</text><text class="b" x="1079" y="171">200</text><text class="g" x="887" y="195">25</text><text class="g" x="960" y="195">25</text><text class="g" x="1040.6" y="199">25</text><text class="g" x="1119.4" y="195">25</text><text class="b" x="897" y="203">200</text><text class="b" x="966.6" y="201">200</text><text class="b" x="1053.5" y="202">200</text><text class="b" x="1126" y="201">200</text><text class="g" x="875" y="236">26</text><text class="r" x="895.6" y="236">300</text><text class="g" x="955" y="236">26</text><text class="r" x="972.5" y="237">300</text><text class="g" x="1033" y="236">26</text><text class="r" x="1052" y="235">300</text><text class="r" x="1107" y="235">300</text><text class="g" x="1131.6" y="235">26</text>
<text class="g" x="1278" y="70">28</text><text class="b" x="1293.7" y="70">20</text><text class="g" x="1263.7" y="99">25</text><text class="g" x="1306" y="98">26</text><text class="b" x="1315.7" y="103">20</text><text class="b" x="1278" y="108">20</text><text class="g" x="1292.6" y="110">27</text><text class="b" x="1216" y="127">20</text><text class="g" x="1207.7" y="132">25</text><text class="b" x="1278" y="134">20</text><text class="g" x="1293" y="136">27</text><text class="g" x="1358.5" y="129">25</text><text class="b" x="1369.5" y="134">20</text><text class="r" x="1169.6" y="133">800</text><text class="g" x="1182" y="142">28</text><text class="g" x="1225" y="146">26</text><text class="g" x="1263.4" y="146">25</text><text class="g" x="1306" y="146">26</text><text class="g" x="1386.7" y="145">28</text><text class="r" x="1225" y="159">100</text><text class="r" x="1259" y="159">100</text><text class="r" x="1305.4" y="159">100</text><text class="r" x="1329" y="159">100</text><text class="g" x="1345" y="159">26</text><text class="r" x="1386" y="159">400</text><text class="g" x="1190.5" y="168">23</text><text class="g" x="1221" y="168">24</text><text class="b" x="1202" y="172">200</text><text class="g" x="1347.5" y="167">23</text><text class="b" x="1360.7" y="171">200</text><text class="g" x="1378.6" y="167">24</text><text class="g" x="1164" y="200">25</text><text class="b" x="1179" y="201">200</text><text class="b" x="1241.8" y="194">200</text><text class="g" x="1248" y="202">25</text><text class="g" x="1322" y="200">25</text><text class="b" x="1336.6" y="201">200</text><text class="b" x="1401.7" y="194">200</text><text class="g" x="1406.5" y="201">25</text><text class="g" x="1156.5" y="235">26</text><text class="r" x="1152" y="242">300</text><text class="g" x="1236" y="237">26</text><text class="r" x="1256" y="236">300</text><text class="r" x="1334" y="235">300</text><text class="g" x="1334" y="243">26</text><text class="r" x="1389.6" y="238">300</text><text class="g" x="1412.7" y="237">26</text>
<text class="r" x="1550.7" y="159">400</text><text class="g" x="1554.3" y="147">26</text><text class="b" x="1567" y="134">20</text><text class="g" x="1585" y="134">25</text>
</g>

<g id="ports-global">
<text class="g rot" x="602" y="363" transform="rotate(50 602 363)">Te1/51</text><text class="g rot" x="648" y="362" transform="rotate(-80 648 362)">Te1/50</text><text class="g rot" x="668" y="404" transform="rotate(37 668 404)">Te1/52</text><text class="g rot" x="651" y="420" transform="rotate(37 651 420)">Te1/49</text>
<text class="g" x="778" y="328">24</text><text class="r" x="789" y="328">2000</text><text class="g" x="800.7" y="354">48</text><text class="r" x="812.7" y="354">2000</text><text class="g" x="829" y="380">Gi3/20</text><text class="r" x="857" y="380">2000</text><text class="g" x="860" y="405">48</text><text class="r" x="871" y="405">2000</text>
<text class="g" x="728" y="337.7">A1</text><text class="b" x="731.7" y="345.7">2</text><text class="g" x="756" y="363">A1</text><text class="b" x="760" y="371">2</text><text class="g" x="774.7" y="389">Te1/1</text><text class="b" x="789" y="396">2</text><text class="g" x="814" y="415">A1</text><text class="b" x="818" y="423.3">2</text>
<text class="g rot" x="857" y="523" transform="rotate(50 857 523)">Te1/1/10</text><text class="g rot" x="873" y="522" transform="rotate(50 873 522)">Te1/1/9</text><text class="g rot" x="891" y="522" transform="rotate(50 891 522)">Te1/1/8</text><text class="g rot" x="908" y="521" transform="rotate(50 908 521)">Te1/1/7</text>
<text class="g rot" x="836" y="539" transform="rotate(37 836 539)">Te1/1/3</text><text class="g rot" x="822" y="557" transform="rotate(37 822 557)">Te2/1/3</text><text class="g rot" x="829" y="589" transform="rotate(-32 829 589)">Te1/1/6</text><text class="g rot" x="848" y="603" transform="rotate(-30 848 603)">Te2/1/6</text>
<text class="g rot" x="950" y="535" transform="rotate(-45 950 535)">Te1/1/5</text><text class="g rot" x="957" y="561" transform="rotate(-45 957 561)">Te2/1/5</text><text class="g rot" x="1047" y="469" transform="rotate(-45 1047 469)">2/A1</text><text class="g rot" x="1047" y="437" transform="rotate(-45 1047 437)">1/A1</text><text class="b rot" x="1008" y="501" transform="rotate(45 1008 501)">2</text>
<text class="g rot" x="972" y="602" transform="rotate(50 972 602)">Te1/1/4</text><text class="g rot" x="956" y="633" transform="rotate(50 956 633)">Te2/1/4</text><text class="g rot" x="1047" y="687" transform="rotate(48 1047 687)">1/A1</text><text class="g rot" x="1039" y="717" transform="rotate(48 1039 717)">1/B1</text><text class="b rot" x="1016" y="673" transform="rotate(50 1016 673)">2</text>
<text class="g" x="1078" y="316">1/41</text><text class="g" x="1069" y="343">1/42</text><text class="g" x="1059" y="368">2/41</text><text class="g" x="1050" y="393">2/42</text>
<text class="g rot" x="653" y="564" transform="rotate(47 653 564)">1:3-4, 2:3-4</text><text class="g rot" x="704" y="622" transform="rotate(47 704 622)">5-8</text><text class="g rot" x="587" y="674" transform="rotate(-17 587 674)">Te4/0/1</text><text class="g rot" x="593" y="697" transform="rotate(-17 593 697)">Te4/0/2</text><text class="g" x="644" y="656.7">3</text><text class="g" x="647" y="680.7">4</text><text class="g rot" x="727" y="652" transform="rotate(-45 727 652)">2</text><text class="g rot" x="727" y="675" transform="rotate(-45 727 675)">1</text>
<text class="g" x="413.3" y="707">Gi1/0/1-2</text><text class="g" x="469.3" y="707">Gi2/0/1-2</text><text class="g" x="413.3" y="733.3">Gi1/0/3-4</text><text class="g" x="460" y="733.7">Gi2/0/19-20</text>
<text class="b" x="1129.3" y="712.3">2</text><text class="g" x="1129.3" y="728.3">1/A2</text><text class="b" x="1190" y="712.3">2</text><text class="g" x="1185" y="728.3">A2</text><text class="g" x="1249" y="712.3">1</text><text class="b" x="1265.3" y="712.3">20</text><text class="g" x="1288.3" y="712.3">1</text><text class="g" x="1249" y="731">2</text><text class="b" x="1265.3" y="731">20</text><text class="g" x="1288.3" y="731">2</text><text class="r" x="1346.7" y="715.7">600</text><text class="g" x="1346.7" y="728.3">48</text>
<text class="r" x="1179.3" y="361.7">800</text><text class="r" x="1154.7" y="379.3">400</text><text class="b" x="1129.3" y="388.3">20</text><text class="r" x="1235" y="375">800</text><text class="r" x="1204" y="394">400</text><text class="b" x="1176.7" y="402.7">20</text><text class="r" x="1292.3" y="389.3">800</text><text class="r" x="1257.3" y="408.3">600</text><text class="r" x="1275" y="408.3">400</text><text class="b" x="1230.7" y="407.7">20</text><text class="b" x="1300" y="409">20</text><text class="r" x="1348.3" y="405">400</text>
<text class="g rot" x="1116" y="411" transform="rotate(-50 1116 411)">1/47</text><text class="g rot" x="1133" y="415" transform="rotate(-35 1133 415)">1/46</text><text class="g rot" x="1143" y="423" transform="rotate(-22 1143 423)">1/45</text><text class="g rot" x="1148" y="434" transform="rotate(-10 1148 434)">1/48</text><text class="b" x="1115.7" y="441.7">20</text><text class="g" x="1170" y="449.3">1/44</text><text class="g" x="1170" y="466.7">2/44</text><text class="b" x="1115.7" y="473.3">20</text><text class="g rot" x="1149" y="476" transform="rotate(15 1149 476)">2/46</text><text class="g rot" x="1143" y="484" transform="rotate(22 1143 484)">2/47</text><text class="g rot" x="1136" y="497" transform="rotate(30 1136 497)">2/48</text><text class="g rot" x="1121" y="503" transform="rotate(50 1121 503)">2/45</text>
<text class="b" x="1325.7" y="448.3">20</text><text class="r" x="1346" y="449">400</text><text class="r" x="1365" y="448.7">800</text><text class="r" x="1362.7" y="466.3">600</text>
<text class="b" x="1288.7" y="485">20</text><text class="r" x="1320" y="489.3">400</text><text class="b" x="1230.7" y="500">20</text><text class="r" x="1261" y="504">600</text><text class="b" x="1181" y="509.3">20</text><text class="r" x="1204" y="519">400</text><text class="b" x="1129.3" y="523.3">20</text><text class="r" x="1154.7" y="533.3">400</text>
</g>

<g id="ports-bottom" transform="translate(0,2.5)">
<text class="b" x="152.5" y="974">2</text><text class="g" x="166" y="974">A2</text><text class="g" x="176.6" y="987.3">Trk1</text><text class="b" x="176.6" y="1007">20</text>
<text class="g" x="421.3" y="979">48</text><text class="r" x="436" y="979">600</text><text class="g" x="400.4" y="989">Trk1</text><text class="b" x="410.3" y="1009">20</text>
<text class="g" x="736.7" y="897.7">28</text><text class="b" x="753" y="897.7">20</text><text class="g" x="725.7" y="924.3">25</text><text class="g" x="761.4" y="922.7">26</text><text class="b" x="737.8" y="934">20</text><text class="b" x="753" y="934">20</text><text class="g" x="737.8" y="940.7">27</text><text class="g" x="675.8" y="955">26</text><text class="b" x="666.5" y="960">20</text><text class="g" x="737.8" y="953.3">28</text><text class="b" x="737.8" y="960.7">20</text><text class="g" x="816.2" y="955">26</text><text class="b" x="826.7" y="960">20</text><text class="g" x="685.7" y="972.3">25</text><text class="g" x="762.5" y="972.3">26</text><text class="r" x="686.8" y="986">100</text><text class="r" x="710.4" y="986">100</text><text class="g" x="725.7" y="986">25</text><text class="r" x="762.5" y="986">100</text><text class="r" x="787.7" y="986">100</text><text class="g" x="800.9" y="986">25</text><text class="g" x="737.8" y="996.7">27</text><text class="r" x="753" y="996.7">400</text>
<text class="g" x="1155.2" y="855">28</text><text class="b" x="1170.5" y="855">20</text><text class="g" x="1144.3" y="881.7">25</text><text class="g" x="1181.3" y="881">26</text><text class="b" x="1155.2" y="891.7">20</text><text class="b" x="1170.5" y="891.7">20</text><text class="g" x="1155.2" y="899">27</text><text class="g" x="1170.5" y="912.3">28</text><text class="b" x="1170.5" y="920">20</text><text class="g" x="1152" y="916.7">27</text><text class="r" x="1131.2" y="920.7">800</text><text class="g" x="1077.9" y="919">26</text><text class="b" x="1088.8" y="914.3">20</text><text class="g" x="1235.8" y="912.7">26</text><text class="b" x="1245.6" y="918.3">20</text><text class="g" x="1101.3" y="930.7">25</text><text class="g" x="1139.4" y="930.7">25</text><text class="g" x="1181.3" y="931.7">26</text><text class="g" x="1222.2" y="930.7">25</text><text class="g" x="1261.4" y="930.7">27</text><text class="r" x="1046.3" y="942.7">400</text><text class="g" x="1061.5" y="942.7">27</text><text class="r" x="1102.4" y="943.3">100</text><text class="r" x="1136" y="943.3">100</text><text class="r" x="1181.3" y="944">100</text><text class="r" x="1214" y="943.3">100</text><text class="r" x="1262" y="944.3">600</text><text class="g" x="1068" y="951.7">23</text><text class="g" x="1098" y="951">24</text><text class="b" x="1079.5" y="956.7">200</text><text class="g" x="1223.8" y="951.7">23</text><text class="g" x="1254.9" y="951">24</text><text class="b" x="1236.9" y="956">200</text><text class="b" x="1041.4" y="978.3">200</text><text class="g" x="1039.7" y="986">25</text><text class="b" x="1118.7" y="977.7">200</text><text class="g" x="1124.7" y="985.7">25</text><text class="b" x="1197.7" y="979.3">200</text><text class="g" x="1197.7" y="986">25</text><text class="b" x="1276.7" y="978.3">200</text><text class="g" x="1283.2" y="985.7">25</text><text class="g" x="1034.3" y="1020">26</text><text class="r" x="1055" y="1020">300</text><text class="g" x="1112.7" y="1020">26</text><text class="r" x="1131.2" y="1020">300</text><text class="g" x="1190.6" y="1020">26</text><text class="r" x="1211.3" y="1020">300</text><text class="g" x="1270" y="1020">26</text><text class="r" x="1289.2" y="1020">300</text>
<text class="g" x="1573.5" y="855.7">28</text><text class="b" x="1588" y="855.7">20</text><text class="g" x="1562.6" y="882.3">25</text><text class="g" x="1598" y="881">26</text><text class="b" x="1573.5" y="892.3">20</text><text class="b" x="1588" y="892.3">20</text><text class="g" x="1588" y="899">27</text><text class="g" x="1509.2" y="912.7">26</text><text class="b" x="1500" y="918.3">20</text><text class="g" x="1588" y="912.3">28</text><text class="b" x="1588" y="919">20</text><text class="g" x="1638.9" y="912.7">26</text><text class="b" x="1648" y="918.3">20</text><text class="g" x="1522.8" y="930.7">25</text><text class="r" x="1540.8" y="931.7">100</text><text class="g" x="1558.2" y="931.7">25</text><text class="g" x="1599.7" y="930.7">26</text><text class="g" x="1637.8" y="930.7">25</text><text class="r" x="1522.8" y="942.7">100</text><text class="r" x="1599.7" y="944">100</text><text class="r" x="1632.3" y="943.3">100</text><text class="g" x="1573.5" y="948.3">27</text><text class="r" x="1551.7" y="955">600</text><text class="g" x="1495.6" y="953.3">23</text><text class="b" x="1509.2" y="953.3">200</text><text class="g" x="1586" y="953.3">23</text><text class="b" x="1588.7" y="960.7">200</text><text class="g" x="1651.4" y="953.3">23</text><text class="b" x="1665" y="953.3">200</text><text class="g" x="1495.6" y="980.7">26</text><text class="b" x="1510.9" y="985.7">200</text><text class="g" x="1588" y="978.3">26</text><text class="b" x="1590" y="985.7">200</text><text class="g" x="1652.5" y="982.7">26</text><text class="b" x="1665" y="985.7">200</text><text class="g" x="1517.4" y="999.3">25</text><text class="g" x="1558.2" y="999.3">24</text><text class="g" x="1596.4" y="999.3">23</text><text class="g" x="1637.8" y="999.3">25</text><text class="b" x="1516.3" y="1010">200</text><text class="b" x="1550.6" y="1010">200</text><text class="b" x="1596.4" y="1010">200</text><text class="b" x="1629" y="1010">200</text>
</g>

<g id="legend">
<text x="1431.7" y="322" font-size="27.5">Légende</text>
<text class="leg" x="1431.7" y="360.7">Liens 100M, 1G, 10Gb/s</text>
<line class="pu" x1="1586" y1="357.3" x2="1620" y2="357.3" stroke-width="2.5" stroke-dasharray="16,1"/><line class="pu" x1="1627.7" y1="357.3" x2="1661" y2="357.3" stroke-width="4" stroke-dasharray="16,1"/><line class="pu" x1="1669" y1="357.3" x2="1703.3" y2="357.3" stroke-width="6" stroke-dasharray="16,1"/>
<text class="leg" x="1431.7" y="378">Lien actif :</text><line class="pu" x1="1503.3" y1="375" x2="1616.7" y2="375" stroke-width="4"/>
<text class="leg" x="1431.7" y="396">Lien backup STP :</text><line class="pu" x1="1546" y1="392.7" x2="1617.3" y2="392.7" stroke-width="2.5"/>
<text class="leg" x="1431.7" y="414.3">Baie :</text><rect class="box" x="1467.7" y="406" width="36" height="14.7"/>
<text class="leg" x="1525.3" y="414.3">Répartiteur :</text><rect class="rb" x="1599.3" y="401.7" width="36.7" height="20" rx="3"/><text class="c" x="1617.7" y="415" font-size="9.5">SRM0</text>
<text class="leg" x="1431.7" y="431.7">STP Path-cost standard (k) :</text><text class="b" x="1590" y="431.7">200</text>
<text class="leg" x="1431.7" y="449">STP Path-cost modifié (k) :</text><text class="r" x="1586" y="449">200</text>
<text class="leg" x="1431.7" y="466">STP Port bloqué («BLK») :</text><rect class="blk" x="1592.3" y="459" width="3.3" height="7.7"/>
<text class="leg" x="1431.7" y="483.3">Stack de switchs :</text><rect class="rb" x="1535" y="470" width="34.7" height="35" rx="3"/><line class="dot" x1="1535" y1="487.3" x2="1569.7" y2="487.3"/><text class="c" x="1552" y="478" font-size="6.5">sw038-1</text><text class="c" x="1552" y="500" font-size="6.5">sw038-2</text>
<text class="leg" x="1431.7" y="500.7">Port du switch:</text><text class="g" x="1520.7" y="499.3">24</text>
<text class="leg" x="1431.7" y="518.3">Agrégats de ports statique</text><ellipse class="agk" cx="1582.7" cy="515.7" rx="3.5" ry="14"/>
<text class="leg" x="1593.3" y="518.3">LACP</text><ellipse class="ago" cx="1636.3" cy="515.7" rx="3.5" ry="14"/>
<text class="leg" x="1646" y="518.3">PAGP</text><ellipse class="agb" cx="1687" cy="515.7" rx="3.5" ry="14"/>
</g>
</svg>
